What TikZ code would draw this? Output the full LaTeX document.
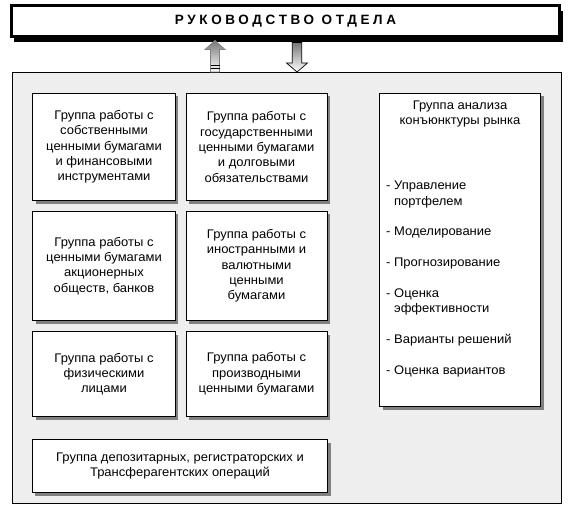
\documentclass[tikz,border=0pt]{standalone}
\usepackage{fontspec}
\setmainfont{Liberation Sans}[FakeStretch=1.04]
\newfontfamily\headfont[LetterSpace=27]{Liberation Sans}
\usepackage{tikz}
\usetikzlibrary{positioning, shadows, calc}
\usepackage{xcolor}
\definecolor{panel-color}{RGB}{238,238,238}
\definecolor{shadow-color}{RGB}{128,128,128}
\definecolor{arrow-color}{RGB}{120,120,120}

\begin{document}
\begin{tikzpicture}[x=1bp, y=-1bp,
    headbox/.style={rectangle, draw=black, fill=white, line width=3bp, minimum width=548bp, minimum height=31bp, font=\fontsize{13.5bp}{15bp}\selectfont\headfont\bfseries, drop shadow={shadow xshift=3bp, shadow yshift=-5.5bp, fill=black, opacity=1}},
    panel/.style={rectangle, draw=black, fill=panel-color, line width=1bp, minimum width=549bp, minimum height=431bp},
    group/.style={rectangle, draw=black, fill=white, line width=1bp, inner sep=2bp, align=center, font=\fontsize{12.5bp}{15.3bp}\selectfont, drop shadow={shadow xshift=3bp, shadow yshift=-3bp, fill=shadow-color, opacity=1}},
    listtext/.style={inner sep=0pt, align=left, font=\fontsize{12.5bp}{15.3bp}\selectfont},
    blockarrow/.style={draw=#1, line width=0.7bp, top color=arrow-color, bottom color=white}]

    \useasboundingbox (0,0) rectangle (573,514);

    % Panel of the department behind all groups
    \node[panel] (cont) at (287,288) {};

    % Head of the department
    \node[headbox] (head) at (285.5,21) {РУКОВОДСТВО ОТДЕЛА};

    % Groups in two columns
    \node[group, minimum width=142bp, minimum height=107bp] (own) at (104,147) {Группа работы с\\собственными\\ценными бумагами\\и финансовыми\\инструментами};
    \node[group, minimum width=141bp, minimum height=107bp] (gov) at (256.5,147) {Группа работы с\\государственными\\ценными бумагами\\и долговыми\\обязательствами};
    \node[group, minimum width=142bp, minimum height=109bp] (corp) at (104,266) {Группа работы с\\ценными бумагами\\акционерных\\обществ, банков};
    \node[group, minimum width=141bp, minimum height=109bp] (forex) at (256.5,266) {Группа работы с\\иностранными и\\валютными\\ценными\\бумагами};
    \node[group, minimum width=142bp, minimum height=85bp] (pers) at (104,374) {Группа работы с\\физическими\\лицами};
    \node[group, minimum width=141bp, minimum height=85bp] (deriv) at (256.5,374) {Группа работы с\\производными\\ценными бумагами};

    % Depository group across both columns
    \node[group, minimum width=295bp, minimum height=53bp] (depo) at (180,466) {Группа депозитарных, регистраторских и\\Трансферагентских операций};

    % Market analysis group on the right
    \node[group, minimum width=161bp, minimum height=313bp] (market) at (460,250) {};
    \node[listtext, align=center] (mtitle) at (460,114) {Группа анализа\\конъюнктуры рынка};
    \node[listtext, anchor=north west] (mlist) at (386,181) {- Управление\\\hphantom{- }портфелем\\[15.5bp]- Моделирование\\[15.5bp]- Прогнозирование\\[15.5bp]- Оценка\\\hphantom{- }эффективности\\[15.5bp]- Варианты решений\\[15.5bp]- Оценка вариантов};

    % Block arrows between head and panel
    \coordinate (uptip) at ($(215,0 |- head.south)+(0,2.5)$);
    \coordinate (upfoot) at (215,0 |- cont.north);
    \coordinate (downtop) at ($(297,0 |- head.south)+(0,4.5)$);
    \coordinate (downtip) at (297,0 |- cont.north);
    \shade[blockarrow=gray] ($(upfoot)+(-4.5,0)$) -- ($(uptip)+(-4.5,9)$) -- ($(uptip)+(-10,9)$) -- (uptip)
        -- ($(uptip)+(10,9)$) -- ($(uptip)+(4.5,9)$) -- ($(upfoot)+(4.5,0)$) -- cycle;
    \draw[line width=1bp] ($(upfoot)+(-4.5,-6)$) -- ($(upfoot)+(4.5,-6)$);
    \draw[line width=1bp] ($(upfoot)+(-4.5,-3)$) -- ($(upfoot)+(4.5,-3)$);
    \shade[blockarrow=black] ($(downtop)+(-4.7,0)$) -- ($(downtip)+(-4.7,-9)$) -- ($(downtip)+(-10.5,-9)$) -- (downtip)
        -- ($(downtip)+(10.5,-9)$) -- ($(downtip)+(4.7,-9)$) -- ($(downtop)+(4.7,0)$) -- cycle;
\end{tikzpicture}
\end{document}
